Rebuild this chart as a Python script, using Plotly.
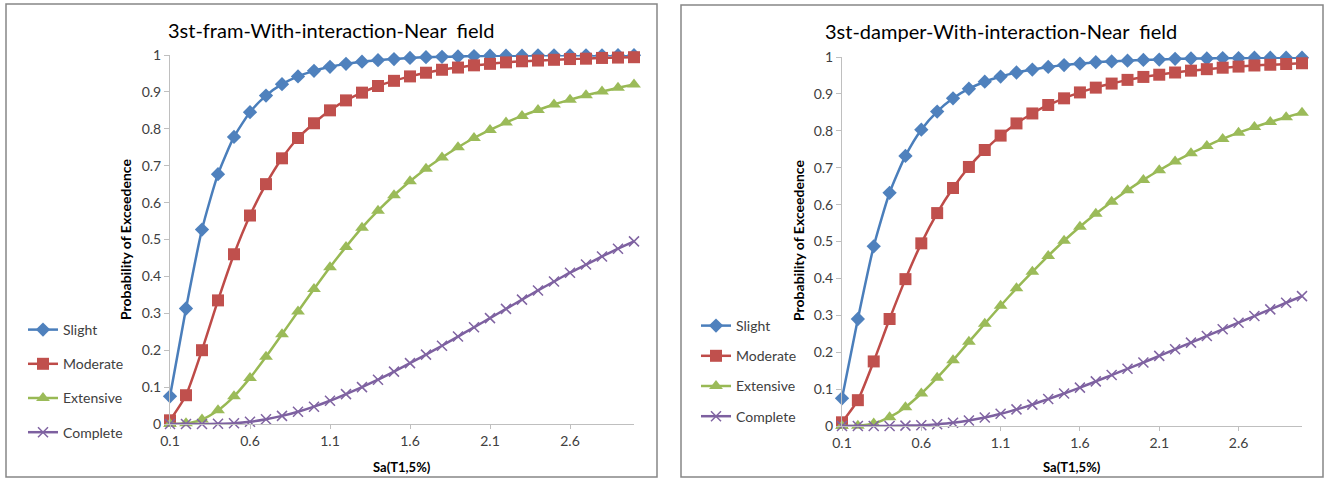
import plotly.graph_objects as go

W, H = 1325, 479

sa = [0.1, 0.2, 0.3, 0.4, 0.5, 0.6, 0.7, 0.8, 0.9, 1.0,
      1.1, 1.2, 1.3, 1.4, 1.5, 1.6, 1.7, 1.8, 1.9, 2.0,
      2.1, 2.2, 2.3, 2.4, 2.5, 2.6, 2.7, 2.8, 2.9, 3.0]

series_names = ["Slight", "Moderate", "Extensive", "Complete"]

# Panel 1: 3st-fram
fram_slight = [0.075, 0.313, 0.527, 0.677, 0.778, 0.845, 0.890, 0.921, 0.942, 0.957,
               0.968, 0.976, 0.982, 0.986, 0.989, 0.992, 0.994, 0.995, 0.996, 0.997,
               0.998, 0.998, 0.998, 0.999, 0.999, 0.999, 0.999, 0.999, 0.9995, 0.9995]
fram_moderate = [0.010, 0.078, 0.200, 0.335, 0.460, 0.565, 0.650, 0.720, 0.775, 0.815,
                 0.850, 0.877, 0.898, 0.916, 0.930, 0.942, 0.952, 0.960, 0.966, 0.972,
                 0.976, 0.980, 0.983, 0.985, 0.987, 0.989, 0.990, 0.992, 0.993, 0.994]
fram_extensive = [0.000, 0.002, 0.012, 0.037, 0.075, 0.125, 0.182, 0.243, 0.305, 0.366,
                  0.425, 0.480, 0.532, 0.578, 0.620, 0.658, 0.692, 0.722, 0.750, 0.775,
                  0.797, 0.817, 0.835, 0.851, 0.866, 0.879, 0.891, 0.901, 0.911, 0.920]
fram_complete = [0.000, 0.000, 0.000, 0.0005, 0.002, 0.006, 0.013, 0.022, 0.033, 0.047,
                 0.063, 0.081, 0.100, 0.120, 0.142, 0.165, 0.188, 0.212, 0.237, 0.262,
                 0.287, 0.312, 0.337, 0.362, 0.386, 0.410, 0.432, 0.454, 0.475, 0.495]

# Panel 2: 3st-damper
damp_slight = [0.075, 0.290, 0.487, 0.632, 0.732, 0.803, 0.852, 0.888, 0.914, 0.933,
               0.947, 0.958, 0.966, 0.973, 0.978, 0.982, 0.986, 0.988, 0.990, 0.992,
               0.993, 0.995, 0.996, 0.996, 0.997, 0.997, 0.998, 0.998, 0.998, 0.998]
damp_moderate = [0.010, 0.070, 0.175, 0.290, 0.398, 0.495, 0.577, 0.645, 0.702, 0.748,
                 0.787, 0.820, 0.847, 0.870, 0.888, 0.904, 0.917, 0.928, 0.938, 0.946,
                 0.952, 0.958, 0.963, 0.967, 0.971, 0.974, 0.977, 0.979, 0.981, 0.983]
damp_extensive = [0.000, 0.001, 0.007, 0.024, 0.051, 0.088, 0.131, 0.178, 0.228, 0.277,
                  0.326, 0.373, 0.418, 0.461, 0.502, 0.540, 0.575, 0.608, 0.639, 0.667,
                  0.693, 0.717, 0.739, 0.759, 0.778, 0.795, 0.810, 0.824, 0.837, 0.849]
damp_complete = [0.000, 0.000, 0.000, 0.000, 0.001, 0.002, 0.005, 0.009, 0.015, 0.023,
                 0.033, 0.045, 0.058, 0.073, 0.088, 0.104, 0.121, 0.138, 0.155, 0.172,
                 0.190, 0.208, 0.226, 0.244, 0.262, 0.280, 0.298, 0.316, 0.334, 0.352]

x_tickvals = [0.1, 0.6, 1.1, 1.6, 2.1, 2.6]
x_ticktext = ["0.1", "0.6", "1.1", "1.6", "2.1", "2.6"]
y_tickvals = [0, 0.1, 0.2, 0.3, 0.4, 0.5, 0.6, 0.7, 0.8, 0.9, 1]
y_ticktext = ["0", "0.1", "0.2", "0.3", "0.4", "0.5", "0.6", "0.7", "0.8", "0.9", "1"]

titles = ["3st-fram-With-interaction-Near  field", "3st-damper-With-interaction-Near  field"]
x_title = "Sa(T1,5%)"
y_title = "Probability of Exceedence"

FONT = "Lato, 'Open Sans', sans-serif"
line_colors = ["#4A7EBB", "#BE4B48", "#98B954", "#7D60A0"]
marker_colors = ["#4F81BD", "#C0504D", "#9BBB59", "#8064A2"]
symbols = ["diamond", "square", "triangle-up", "x-thin"]
sizes = [11, 12, 12, 10]


def px_x(p):
    return p / W


def px_y(p):
    return 1 - p / H


fig = go.Figure()

panels = [
    dict(data=[fram_slight, fram_moderate, fram_extensive, fram_complete],
         xa="x", ya="y", legend="legend"),
    dict(data=[damp_slight, damp_moderate, damp_extensive, damp_complete],
         xa="x2", ya="y2", legend="legend2"),
]

for pi, p in enumerate(panels):
    for si, vals in enumerate(p["data"]):
        sym = symbols[si]
        if sym == "x-thin":
            marker = dict(symbol=sym, size=sizes[si], color=marker_colors[si],
                          line=dict(color=marker_colors[si], width=1.5))
        else:
            marker = dict(symbol=sym, size=sizes[si], color=marker_colors[si],
                          line=dict(width=0))
        fig.add_trace(go.Scatter(
            x=sa, y=vals, name=series_names[si], mode="lines+markers",
            line=dict(color=line_colors[si], width=2.5, shape="spline", smoothing=0.6),
            marker=marker, xaxis=p["xa"], yaxis=p["ya"], legend=p["legend"],
            legendgroup=f"{pi}-{si}", cliponaxis=False,
        ))

axis_common_x = dict(range=[0.1, 3.0], tickmode="array", tickvals=x_tickvals, ticktext=x_ticktext,
                     showgrid=False, zeroline=False, showline=True, linecolor="#BFBFBF", linewidth=1,
                     ticks="outside", ticklen=4, tickcolor="#BFBFBF",
                     tickfont=dict(family=FONT, size=14, color="#404040"), fixedrange=True)
axis_common_y = dict(range=[0, 1], tickmode="array", tickvals=y_tickvals, ticktext=y_ticktext,
                     showgrid=False, zeroline=False, showline=True, linecolor="#BFBFBF", linewidth=1,
                     ticks="outside", ticklen=5, tickcolor="#BFBFBF",
                     tickfont=dict(family=FONT, size=14, color="#404040"), fixedrange=True)

fig.update_layout(
    width=W, height=H,
    margin=dict(l=0, r=0, t=0, b=0, autoexpand=False),
    paper_bgcolor="white", plot_bgcolor="white",
    font=dict(family=FONT, color="#404040"),
    xaxis=dict(domain=[px_x(170), px_x(634)], anchor="y", **axis_common_x),
    yaxis=dict(domain=[px_y(424), px_y(55)], anchor="x", **axis_common_y),
    xaxis2=dict(domain=[px_x(842), px_x(1302)], anchor="y2", **axis_common_x),
    yaxis2=dict(domain=[px_y(426), px_y(57)], anchor="x2", **axis_common_y),
    legend=dict(x=px_x(23), y=px_y(314), xanchor="left", yanchor="top",
                bgcolor="rgba(0,0,0,0)", tracegroupgap=13,
                font=dict(family=FONT, size=14, color="#404040")),
    legend2=dict(x=px_x(696), y=px_y(310), xanchor="left", yanchor="top",
                 bgcolor="rgba(0,0,0,0)", tracegroupgap=9,
                 font=dict(family=FONT, size=14, color="#404040")),
    showlegend=True,
)

# Panel borders
fig.add_shape(type="rect", xref="paper", yref="paper",
              x0=px_x(6), x1=px_x(657), y0=px_y(477), y1=px_y(4),
              line=dict(color="#868686", width=1.5), fillcolor="rgba(0,0,0,0)", layer="below")
fig.add_shape(type="rect", xref="paper", yref="paper",
              x0=px_x(681), x1=px_x(1323), y0=px_y(477), y1=px_y(5),
              line=dict(color="#868686", width=1.5), fillcolor="rgba(0,0,0,0)", layer="below")

# Chart titles
for cx, cy, t in [(331, 30, titles[0]), (1001, 31, titles[1])]:
    fig.add_annotation(x=px_x(cx), y=px_y(cy), xref="paper", yref="paper", text=t,
                       showarrow=False, xanchor="center", yanchor="middle",
                       font=dict(family=FONT, size=20, color="#000000"))

# Axis titles
for cx, cy in [(402, 467), (1072, 467)]:
    fig.add_annotation(x=px_x(cx), y=px_y(cy), xref="paper", yref="paper", text=f"<b>{x_title}</b>",
                       showarrow=False, xanchor="center", yanchor="middle",
                       font=dict(family=FONT, size=13, color="#000000"))
for cx, cy in [(125, 240), (798, 241)]:
    fig.add_annotation(x=px_x(cx), y=px_y(cy), xref="paper", yref="paper", text=f"<b>{y_title}</b>",
                       showarrow=False, xanchor="center", yanchor="middle", textangle=-90,
                       font=dict(family=FONT, size=14, color="#000000"))

fig.write_html("out.html", config={"displayModeBar": False},
               post_script="document.body.style.margin='0';document.body.style.overflow='hidden';")
